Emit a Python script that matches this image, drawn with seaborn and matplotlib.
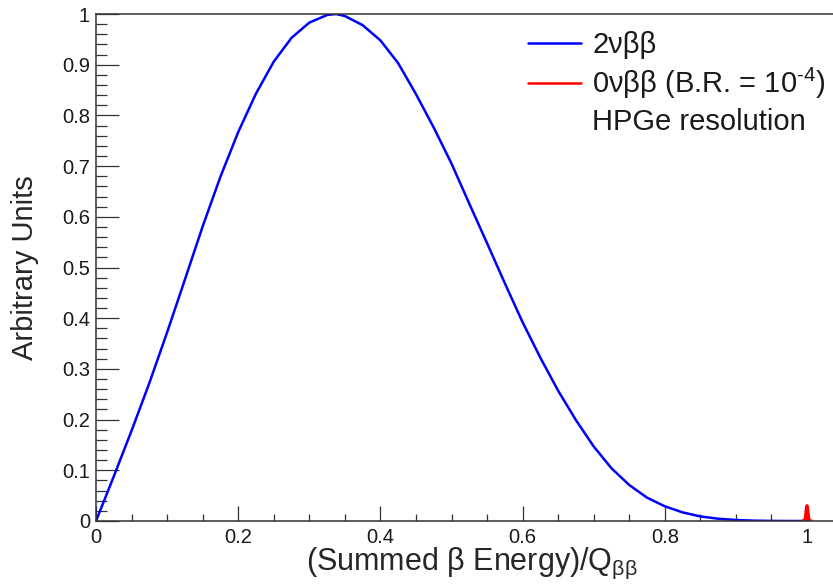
import numpy as np
import pandas as pd
import matplotlib
matplotlib.use('Agg')
import matplotlib.pyplot as plt
from matplotlib.lines import Line2D
from matplotlib.ticker import MultipleLocator, FixedLocator, FixedFormatter
import seaborn as sns

# ---- data ----
energy_2nu = [0.0, 0.025, 0.05, 0.075, 0.1, 0.125, 0.15, 0.175, 0.2, 0.225,
              0.25, 0.275, 0.3, 0.325, 0.3375, 0.35, 0.375, 0.4, 0.425, 0.45,
              0.475, 0.5, 0.525, 0.55, 0.575, 0.6, 0.625, 0.65, 0.675, 0.7,
              0.725, 0.75, 0.775, 0.8, 0.825, 0.85, 0.875, 0.9, 0.925, 0.95,
              0.975, 1.0]
counts_2nu = [0.0, 0.088, 0.178, 0.272, 0.372, 0.476, 0.581, 0.679, 0.767, 0.843,
              0.906, 0.953, 0.983, 0.998, 1.0, 0.996, 0.978, 0.948, 0.903, 0.842,
              0.776, 0.705, 0.626, 0.548, 0.469, 0.392, 0.322, 0.257, 0.199, 0.147,
              0.104, 0.071, 0.046, 0.029, 0.017, 0.009, 0.0045, 0.002, 0.0007, 0.0002,
              0.0, 0.0]
energy_0nu = [0.994, 0.997, 0.998, 0.999, 1.0, 1.001, 1.002, 1.003, 1.006]
counts_0nu = [0.0, 0.001, 0.008, 0.022, 0.030, 0.022, 0.008, 0.001, 0.0]

x_ticks = [0, 0.2, 0.4, 0.6, 0.8, 1.0]
x_tick_labels = ['0', '0.2', '0.4', '0.6', '0.8', '1']
y_ticks = [0, 0.1, 0.2, 0.3, 0.4, 0.5, 0.6, 0.7, 0.8, 0.9, 1.0]
y_tick_labels = ['0', '0.1', '0.2', '0.3', '0.4', '0.5', '0.6', '0.7', '0.8', '0.9', '1']
legend_labels = ['2νββ', '0νββ (B.R. = 10$^{\\text{-4}}$)', 'HPGe resolution']
x_title = '(Summed β Energy)/Q$_{\\mathregular{ββ}}$'
y_title = 'Arbitrary Units'

df_2nu = pd.DataFrame({'energy': energy_2nu, 'counts': counts_2nu})
df_0nu = pd.DataFrame({'energy': energy_0nu, 'counts': counts_0nu})

# ---- style ----
sns.set_theme(style='white')
plt.rcParams['font.family'] = ['Liberation Sans', 'DejaVu Sans']
plt.rcParams['mathtext.fontset'] = 'custom'
plt.rcParams['mathtext.rm'] = 'Liberation Sans'
plt.rcParams['mathtext.it'] = 'Liberation Sans:italic'
plt.rcParams['mathtext.bf'] = 'Liberation Sans:bold'
plt.rcParams['text.color'] = '#1a1a1a'

W, H = 833, 587
fig = plt.figure(figsize=(W / 100, H / 100), dpi=100)
fig.patch.set_facecolor('white')
ax_left, ax_bottom, ax_w, ax_h = 96, 521, 711 * 1.05, 507
ax = fig.add_axes([ax_left / W, (H - ax_bottom) / H, ax_w / W, ax_h / H])

sns.lineplot(data=df_2nu, x='energy', y='counts', ax=ax, color='#0000ff',
             linewidth=1.8, sort=False, estimator=None)
sns.lineplot(data=df_0nu, x='energy', y='counts', ax=ax, color='#ff0000',
             linewidth=2.4, sort=False, estimator=None)

ax.set_xlim(0, 1.05)
ax.set_ylim(0, 1.0)

for side in ['left', 'bottom', 'top', 'right']:
    ax.spines[side].set_visible(True)
    ax.spines[side].set_color('#333333')
    ax.spines[side].set_linewidth(1.1)

ax.xaxis.set_major_locator(FixedLocator(x_ticks))
ax.xaxis.set_major_formatter(FixedFormatter(x_tick_labels))
ax.yaxis.set_major_locator(FixedLocator(y_ticks))
ax.yaxis.set_major_formatter(FixedFormatter(y_tick_labels))
ax.xaxis.set_minor_locator(MultipleLocator(0.05))
ax.yaxis.set_minor_locator(MultipleLocator(0.02))

ax.tick_params(axis='x', which='major', direction='in', length=10.5, width=0.9,
               color='#333333', labelsize=14.5, labelcolor='#1a1a1a', pad=5,
               bottom=True, top=False)
ax.tick_params(axis='x', which='minor', direction='in', length=5, width=0.9,
               color='#333333', bottom=True, top=False)
ax.tick_params(axis='y', which='major', direction='in', length=16.5, width=0.9,
               color='#333333', labelsize=14.5, labelcolor='#1a1a1a', pad=4.3,
               left=True, right=False)
ax.tick_params(axis='y', which='minor', direction='in', length=8, width=0.9,
               color='#333333', left=True, right=False)

ax.set_xlabel(x_title, fontsize=22)
ax.set_ylabel(y_title, fontsize=21)
ax.xaxis.set_label_coords(0.5036, -(546 - 521) / 507)
ax.yaxis.set_label_coords(-(96 - 39) / ax_w, 0.5)

handles = [Line2D([], [], color='#0000ff', lw=1.8),
           Line2D([], [], color='#ff0000', lw=1.8),
           Line2D([], [], color='none')]
ax.legend(handles, legend_labels, loc='upper left',
          bbox_to_anchor=(528 / W, 1 - 31 / H), bbox_transform=fig.transFigure,
          frameon=False, fontsize=21, handlelength=1.8, handletextpad=0.4,
          borderpad=0, borderaxespad=0, labelspacing=0.24)

fig.savefig('out.png', dpi=100, facecolor='white')
